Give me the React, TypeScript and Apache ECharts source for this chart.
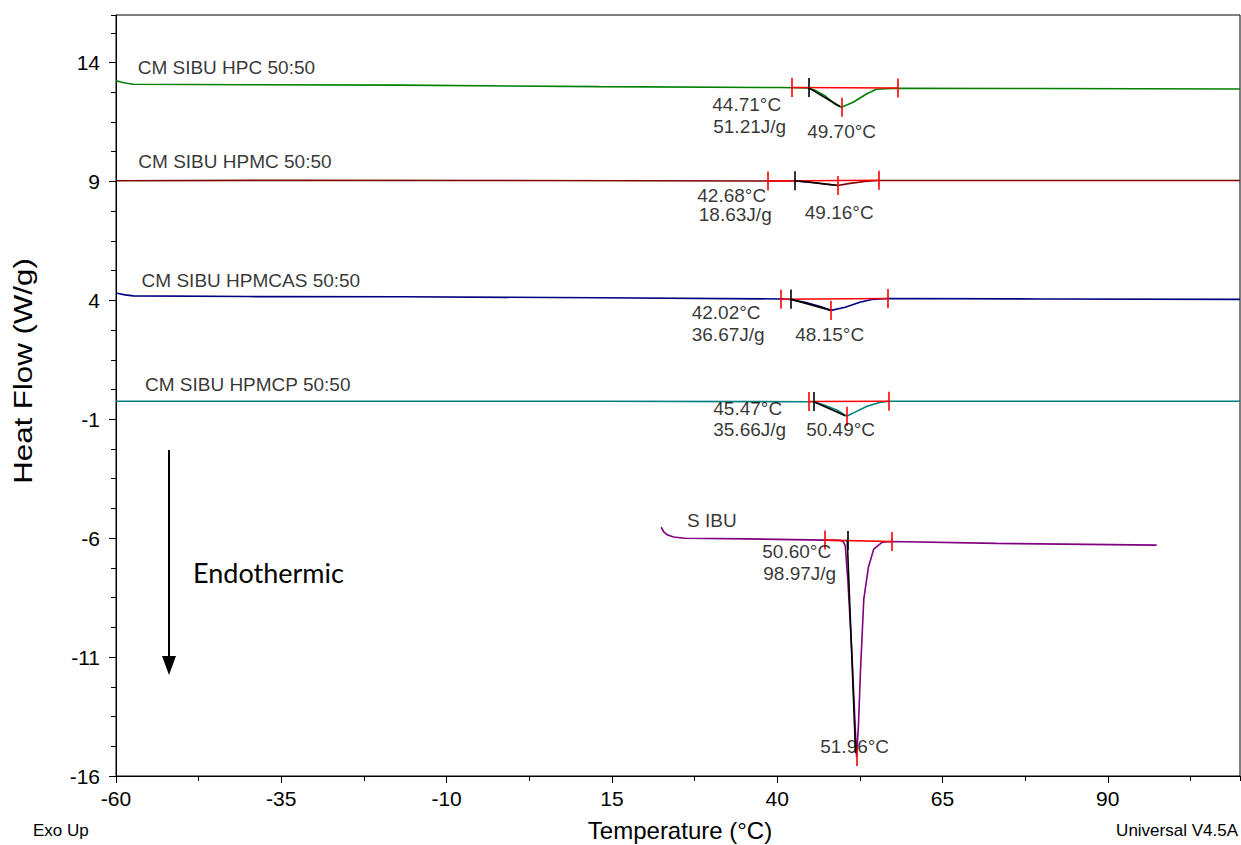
import React, { useEffect, useRef } from "react";
import * as echarts from "echarts";

type Pt = [number, number];

// ---- axes (real units) ----
const X_MIN = -60;
const X_MAX = 110;
const X_MAJOR = 25;
const X_MINOR = 12.5;
const Y_MIN = -16;
const Y_MAX = 16;
const Y_MAJOR = 5;
const Y_MINOR = 1.25;

// ---- curve names / colours ----
const sampleNames = [
  "CM SIBU HPC 50:50",
  "CM SIBU HPMC 50:50",
  "CM SIBU HPMCAS 50:50",
  "CM SIBU HPMCP 50:50",
  "S IBU",
];
const sampleColors = ["#008000", "#800000", "#000080", "#008080", "#800080"];

// ---- heat flow curves: [temperature °C, heat flow W/g] ----
const hpcCurve: Pt[] = [
  [-60, 13.24], [-59.3, 13.18], [-58.6, 13.14], [-57.4, 13.09], [-40, 13.07], [-17, 13.05],
  [13, 12.99], [40.4, 12.95], [44.6, 12.93], [45.7, 12.84], [47.2, 12.61], [48.7, 12.26],
  [49.7, 12.12], [51.5, 12.33], [53.5, 12.68], [55.0, 12.88], [58, 12.92], [80, 12.91], [110, 12.89],
];
const hpmcCurve: Pt[] = [
  [-60, 9.03], [-32, 9.05], [0, 9.04], [38.6, 9.02], [42.6, 9.02], [44.9, 8.98], [47.4, 8.89],
  [49.16, 8.83], [51.0, 8.92], [53.2, 9.0], [55.3, 9.04], [80, 9.04], [110, 9.04],
];
const hpmcasCurve: Pt[] = [
  [-60, 4.31], [-59.3, 4.27], [-58.6, 4.23], [-57.4, 4.19], [-40, 4.16], [-17, 4.15], [13, 4.11],
  [40.6, 4.06], [42.0, 4.04], [44.2, 3.92], [46.4, 3.75], [48.15, 3.58], [50.3, 3.71],
  [52.5, 3.92], [54.3, 4.04], [56.7, 4.08], [80, 4.06], [110, 4.04],
];
const hpmcpCurve: Pt[] = [
  [-60, -0.24], [-20, -0.24], [13, -0.24], [44.8, -0.26], [45.5, -0.26], [47.2, -0.41],
  [49.1, -0.62], [50.49, -0.87], [51.7, -0.71], [53.6, -0.45], [55.5, -0.29], [56.9, -0.24],
  [80, -0.24], [110, -0.24],
];
const sibuCurve: Pt[] = [
  [22.45, -5.54], [22.84, -5.73], [23.44, -5.87], [24.35, -5.95], [26, -6.0], [35.4, -6.03],
  [47.2, -6.08], [49.5, -6.09], [50.0, -6.15], [50.3, -6.32], [50.7, -7.81], [51.3, -10.83],
  [52.0, -15.18], [52.3, -13.82], [52.6, -11.58], [53.1, -8.56], [53.8, -7.22], [54.6, -6.46],
  [55.9, -6.17], [57.3, -6.14], [73.2, -6.22], [97.4, -6.29],
];
const curves = [hpcCurve, hpmcCurve, hpmcasCurve, hpmcpCurve, sibuCurve];

// ---- peak analysis: [limit start, limit end, baseline y start, baseline y end, onset, peak, peak y, tangent end x, tangent end y]
const hpcEvent = [42.24, 58.26, 12.95, 12.93, 44.71, 49.7, 12.12, 49.5, 12.15];
const hpmcEvent = [38.6, 55.4, 9.02, 9.05, 42.68, 49.16, 8.83, 49.0, 8.84];
const hpmcasEvent = [40.6, 56.7, 4.05, 4.08, 42.02, 48.15, 3.58, 48.0, 3.59];
const hpmcpEvent = [44.8, 56.9, -0.25, -0.24, 45.47, 50.49, -0.87, 50.3, -0.85];
const sibuEvent = [47.2, 57.3, -6.08, -6.14, 50.6, 51.96, -15.18, 51.86, -15.03];
const events = [hpcEvent, hpmcEvent, hpmcasEvent, hpmcpEvent, sibuEvent];

// ---- analysis texts ----
const onsetTexts = ["44.71°C", "42.68°C", "42.02°C", "45.47°C", "50.60°C"];
const enthalpyTexts = ["51.21J/g", "18.63J/g", "36.67J/g", "35.66J/g", "98.97J/g"];
const peakTexts = ["49.70°C", "49.16°C", "48.15°C", "50.49°C", "51.96°C"];

// ---- text anchors (layout, in chart units) ----
const nameSpots: Pt[] = [[-56.8, 13.81], [-56.7, 9.84], [-56.2, 4.84], [-55.7, 0.45], [26.3, -5.24]];
const onsetSpots: Pt[] = [[35.39, 12.24], [33.12, 8.41], [32.28, 3.5], [35.54, -0.54], [42.95, -6.55]];
const enthalpySpots: Pt[] = [[35.84, 11.31], [33.66, 7.61], [32.59, 2.57], [35.84, -1.42], [43.41, -7.47]];
const peakSpots: Pt[] = [[49.75, 11.1], [49.38, 7.7], [47.94, 2.57], [49.6, -1.42], [51.72, -14.78]];

const TICK_H = 0.4;
const FONT = '"Liberation Sans", Arial, sans-serif';

const sx = (v: number) => v - X_MIN;
const sy = (v: number) => v - Y_MIN;
const P = (p: Pt): number[] => [sx(p[0]), sy(p[1])];

function buildOption() {
  const series: any[] = [];
  curves.forEach((c, i) => {
    series.push({
      type: "line",
      name: sampleNames[i],
      data: c.map(P),
      showSymbol: false,
      symbol: "none",
      smooth: false,
      lineStyle: { color: sampleColors[i], width: 1.6 },
      z: 2,
      silent: true,
    });
  });
  const red: any[] = [];
  const black: any[] = [];
  events.forEach((e) => {
    const [s, en, bs, be, onset, peak, py, tx, ty] = e;
    const bo = bs + ((be - bs) * (onset - s)) / (en - s);
    red.push({ coords: [P([s, bs]), P([en, be])] });
    red.push({ coords: [P([s, bs + TICK_H]), P([s, bs - TICK_H])] });
    red.push({ coords: [P([en, be + TICK_H]), P([en, be - TICK_H])] });
    red.push({ coords: [P([peak, py + TICK_H]), P([peak, py - TICK_H])] });
    black.push({ coords: [P([onset, bo + TICK_H]), P([onset, bo - TICK_H])] });
    black.push({ coords: [P([onset, bo]), P([tx, ty])] });
  });
  series.push({
    type: "lines",
    coordinateSystem: "cartesian2d",
    data: red,
    lineStyle: { color: "#ff0000", width: 1.6, opacity: 1 },
    z: 3,
    silent: true,
  });
  series.push({
    type: "lines",
    coordinateSystem: "cartesian2d",
    data: black,
    lineStyle: { color: "#000000", width: 1.6, opacity: 1 },
    z: 4,
    silent: true,
  });

  const textItems: any[] = [];
  const centerLabel = (spot: Pt, text: string, size: number) => ({
    value: P(spot),
    label: {
      show: true,
      formatter: text,
      position: "inside",
      align: "center",
      verticalAlign: "middle",
      color: "#000",
      fontSize: size,
      fontFamily: FONT,
    },
  });
  sampleNames.forEach((n, i) => {
    textItems.push({
      value: P(nameSpots[i]),
      label: {
        show: true,
        formatter: n,
        position: "right",
        distance: 0,
        align: "left",
        verticalAlign: "middle",
        color: "#000",
        fontSize: 19,
        fontFamily: FONT,
      },
    });
    textItems.push(centerLabel(onsetSpots[i], onsetTexts[i], 19));
    textItems.push(centerLabel(enthalpySpots[i], enthalpyTexts[i], 19));
    textItems.push(centerLabel(peakSpots[i], peakTexts[i], 19));
  });
  series.push({
    type: "scatter",
    data: textItems,
    symbolSize: 1,
    itemStyle: { color: "rgba(0,0,0,0)" },
    z: 5,
    silent: true,
  });

  const axisBase = {
    type: "value",
    splitLine: { show: false },
    axisLine: { show: true, lineStyle: { color: "#000", width: 1 } },
  };

  return {
    animation: false,
    backgroundColor: "#fff",
    grid: {
      left: 116,
      top: 15,
      width: 1124,
      height: 761,
      show: true,
      borderColor: "#000",
      borderWidth: 1,
      backgroundColor: "transparent",
    },
    xAxis: [
      {
        ...axisBase,
        min: 0,
        max: X_MAX - X_MIN,
        interval: X_MAJOR,
        axisTick: { show: true, length: 7, lineStyle: { color: "#000" } },
        axisLabel: {
          color: "#000",
          fontSize: 21,
          fontFamily: FONT,
          margin: 12,
          showMaxLabel: false,
          formatter: (v: number) => String(Math.round(v + X_MIN)),
        },
      },
      {
        ...axisBase,
        min: 0,
        max: X_MAX - X_MIN,
        interval: X_MINOR,
        position: "bottom",
        axisLine: { show: false },
        axisTick: { show: true, length: 5, lineStyle: { color: "#000" } },
        axisLabel: { show: false },
      },
    ],
    yAxis: [
      {
        ...axisBase,
        min: 0,
        max: Y_MAX - Y_MIN,
        interval: Y_MAJOR,
        axisTick: { show: true, length: 7, lineStyle: { color: "#000" } },
        axisLabel: {
          color: "#000",
          fontSize: 21,
          fontFamily: FONT,
          margin: 16,
          showMaxLabel: false,
          formatter: (v: number) => String(Math.round(v + Y_MIN)),
        },
      },
      {
        ...axisBase,
        min: 0,
        max: Y_MAX - Y_MIN,
        interval: Y_MINOR,
        position: "left",
        axisLine: { show: false },
        axisTick: { show: true, length: 5, lineStyle: { color: "#000" } },
        axisLabel: { show: false },
      },
    ],
    series,
    graphic: [
      {
        type: "text",
        x: 23,
        y: 371,
        rotation: Math.PI / 2,
        scaleX: 1.25,
        style: {
          text: "Heat Flow (W/g)",
          font: `25px ${FONT}`,
          fill: "#000",
          textAlign: "center",
          textVerticalAlign: "middle",
        },
      },
      {
        type: "text",
        x: 680,
        y: 830,
        style: {
          text: "Temperature (°C)",
          font: `24px ${FONT}`,
          fill: "#000",
          textAlign: "center",
          textVerticalAlign: "middle",
        },
      },
      {
        type: "text",
        x: 33,
        y: 830,
        style: { text: "Exo Up", font: `17px ${FONT}`, fill: "#000", textAlign: "left", textVerticalAlign: "middle" },
      },
      {
        type: "text",
        x: 1238,
        y: 830,
        style: { text: "Universal V4.5A", font: `17px ${FONT}`, fill: "#000", textAlign: "right", textVerticalAlign: "middle" },
      },
      {
        type: "line",
        shape: { x1: 169, y1: 450, x2: 169, y2: 660 },
        style: { stroke: "#000", lineWidth: 2 },
      },
      {
        type: "polygon",
        shape: { points: [[162, 656], [176, 656], [169, 675]] },
        style: { fill: "#000" },
      },
      {
        type: "text",
        x: 193,
        y: 572,
        style: { text: "Endothermic", font: `27px Lato, "Open Sans", sans-serif`, fill: "#000", textAlign: "left", textVerticalAlign: "middle" },
      },
    ],
  };
}

export default function App() {
  const ref = useRef<HTMLDivElement>(null);
  useEffect(() => {
    if (!ref.current) return;
    const chart = echarts.init(ref.current, undefined, { renderer: "svg" });
    chart.setOption(buildOption() as any);
    return () => chart.dispose();
  }, []);
  return (
    <div
      ref={ref}
      style={{ position: "absolute", left: 0, top: 0, width: 1241, height: 845, background: "#fff" }}
    />
  );
}
